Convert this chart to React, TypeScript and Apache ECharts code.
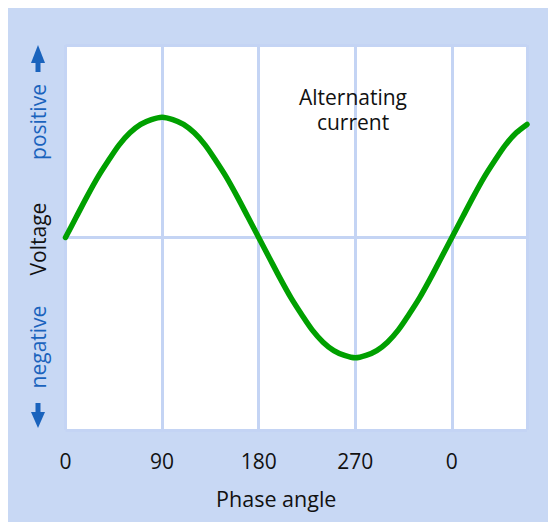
import React, { useEffect, useRef } from "react";
import * as echarts from "echarts";

const phaseAngles = [
  0, 10, 20, 30, 40, 50, 60, 70, 80, 90, 100, 110, 120, 130, 140, 150, 160, 170, 180,
  190, 200, 210, 220, 230, 240, 250, 260, 270, 280, 290, 300, 310, 320, 330, 340, 350, 360,
  370, 380, 390, 400, 410, 420, 430,
];
const voltage = [
  0, 0.17, 0.34, 0.5, 0.64, 0.77, 0.87, 0.94, 0.98, 1, 0.98, 0.94, 0.87, 0.77, 0.64, 0.5, 0.34, 0.17, 0,
  -0.17, -0.34, -0.5, -0.64, -0.77, -0.87, -0.94, -0.98, -1, -0.98, -0.94, -0.87, -0.77, -0.64, -0.5, -0.34, -0.17, 0,
  0.17, 0.34, 0.5, 0.64, 0.77, 0.87, 0.94,
];
const tickLabels = ["0", "90", "180", "270", "0"];
const noteLines = ["Alternating", "current"];

const FONT = "Open Sans";
const BG = "#c8d8f4";
const GRID = "#c4d4f4";
const BLUE = "#1a63bd";

export default function App() {
  const ref = useRef<HTMLDivElement>(null);
  useEffect(() => {
    if (!ref.current) return;
    const chart = echarts.init(ref.current, undefined, { renderer: "svg" });
    chart.setOption({
      animation: false,
      backgroundColor: BG,
      textStyle: { fontFamily: FONT },
      grid: {
        left: 57.5,
        top: 37,
        right: 29,
        bottom: 92,
        show: true,
        backgroundColor: "#ffffff",
        borderWidth: 0,
      },
      xAxis: {
        type: "value",
        min: 0,
        max: 430,
        interval: 90,
        axisLine: { show: false },
        axisTick: { show: false },
        splitLine: { show: true, lineStyle: { color: GRID, width: 3 } },
        axisLabel: {
          showMaxLabel: false,
          margin: 20,
          fontSize: 21,
          color: "#111111",
          fontFamily: FONT,
          formatter: (v: number) => tickLabels[Math.round(v / 90)] ?? "",
        },
        name: "Phase angle",
        nameLocation: "middle",
        nameGap: 57,
        nameTextStyle: { fontSize: 21.5, color: "#111111", fontFamily: FONT, padding: [0, 40, 0, 0] },
      },
      yAxis: {
        type: "value",
        min: -1.6,
        max: 1.6,
        interval: 1.6,
        axisLine: { show: false },
        axisTick: { show: false },
        axisLabel: { show: false },
        splitLine: { show: true, lineStyle: { color: GRID, width: 3 } },
      },
      series: [
        {
          type: "line",
          data: phaseAngles.map((a, i) => [a, voltage[i]]),
          smooth: 0.3,
          symbol: "none",
          lineStyle: { color: "#00a000", width: 5.5, cap: "round", join: "round" },
        },
      ],
      graphic: [
        ...noteLines.map((t, i) => ({
          type: "text",
          x: 345,
          y: 89 + i * 25,
          z: 100,
          style: {
            text: t,
            font: `21px "${FONT}"`,
            fill: "#111111",
            align: "center",
            verticalAlign: "middle",
          },
        })),
        {
          type: "text",
          x: 30,
          y: 114,
          rotation: Math.PI / 2,
          style: { text: "positive", font: `21px "${FONT}"`, fill: BLUE, align: "center", verticalAlign: "middle" },
        },
        {
          type: "text",
          x: 30,
          y: 231,
          rotation: Math.PI / 2,
          style: { text: "Voltage", font: `21px "${FONT}"`, fill: "#111111", align: "center", verticalAlign: "middle" },
        },
        {
          type: "text",
          x: 30,
          y: 339,
          rotation: Math.PI / 2,
          style: { text: "negative", font: `21px "${FONT}"`, fill: BLUE, align: "center", verticalAlign: "middle" },
        },
        {
          type: "polygon",
          shape: { points: [[30, 37], [37, 55], [23, 55]] },
          style: { fill: BLUE },
        },
        {
          type: "rect",
          shape: { x: 27.5, y: 54, width: 5, height: 10 },
          style: { fill: BLUE },
        },
        {
          type: "rect",
          shape: { x: 27.5, y: 395, width: 5, height: 10 },
          style: { fill: BLUE },
        },
        {
          type: "polygon",
          shape: { points: [[23, 404], [37, 404], [30, 420]] },
          style: { fill: BLUE },
        },
      ],
    });
    return () => chart.dispose();
  }, []);
  return <div ref={ref} style={{ width: 548, height: 514 }} />;
}
